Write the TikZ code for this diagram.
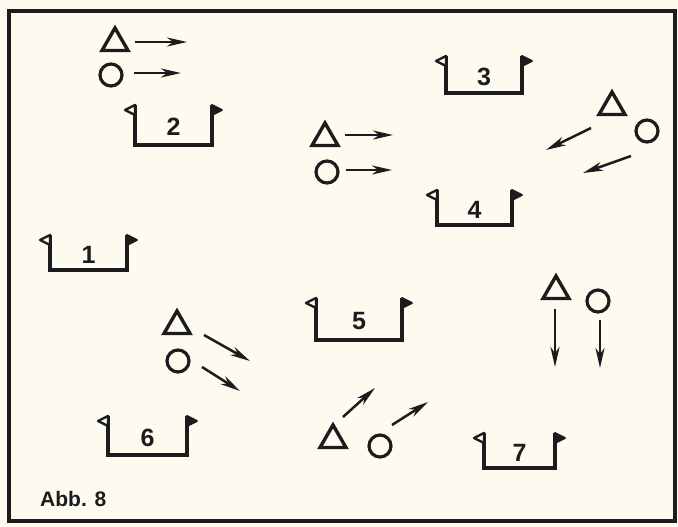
\documentclass[tikz,border=0pt]{standalone}
\usepackage{fontspec}
\setmainfont{Liberation Sans}
\usetikzlibrary{shapes.geometric,arrows.meta}
\definecolor{paper}{RGB}{253,250,240}
\definecolor{ink}{RGB}{28,28,30}
\tikzset{
  goalline/.style={draw=ink,line width=3.4pt,line join=miter},
  flagl/.style={draw=ink,fill=paper,line width=2.4pt,line join=round},
  flagr/.style={draw=ink,fill=ink,line width=1.8pt,line join=round},
  num/.style={font=\fontsize{25}{25}\selectfont\bfseries,text=ink,inner sep=0pt},
  tri/.style={regular polygon,regular polygon sides=3,draw=ink,line width=3.4pt,minimum size=30pt,inner sep=0pt},
  ball/.style={circle,draw=ink,line width=3.2pt,minimum size=22pt,inner sep=0pt},
  run/.style={draw=ink,line width=2.5pt,-{Stealth[length=20pt,width=9pt,inset=6pt]}},
  frame/.style={draw=ink,line width=3.2pt},
}
\newcommand\goalU[6]{%
  \draw[goalline] (#2,{#4-2}) -- (#2,#5) -- (#3,#5) -- (#3,{#4-2});
  \draw[flagl] (#2,{#4-2}) -- ({#2-10},{#4+3}) -- (#2,{#4+8}) -- cycle;
  \draw[flagr] (#3,{#4-2}) -- ({#3+10},{#4+3}) -- (#3,{#4+8}) -- cycle;
  \node[num] (#1) at ({(#2+#3)/2},{(#4+#5)/2+1}) {#6};
}
\begin{document}
\begin{tikzpicture}[x=1pt,y=-1pt]
\useasboundingbox (0,0) rectangle (678,527);
\fill[paper] (0,0) rectangle (678,527);
\draw[frame] (9,11) rectangle (675,521);

% goals
\goalU{g1}{50}{127}{237}{270}{1}
\goalU{g2}{135}{212}{107}{145}{2}
\goalU{g3}{446}{522}{58}{93}{3}
\goalU{g4}{437}{512}{192}{225}{4}
\goalU{g5}{316}{402}{300}{340}{5}
\goalU{g6}{108}{187}{418}{455}{6}
\goalU{g7}{484}{555}{435}{468}{7}

% group A
\node[tri] (ta) at (115,43) {};
\node[ball] (ca) at (111,75) {};
\coordinate (ta1) at (135,42); \coordinate (ta2) at (187,42);
\coordinate (ca1) at (134,73); \coordinate (ca2) at (181,73);
\draw[run] (ta1) -- (ta2);
\draw[run] (ca1) -- (ca2);

% group B
\node[tri] (tb) at (325,138) {};
\node[ball] (cb) at (327,172) {};
\coordinate (tb1) at (345,135); \coordinate (tb2) at (393,135);
\coordinate (cb1) at (346,170); \coordinate (cb2) at (392,170);
\draw[run] (tb1) -- (tb2);
\draw[run] (cb1) -- (cb2);

% group C
\node[tri] (tc) at (612,107) {};
\node[ball] (cc) at (647,131) {};
\coordinate (tc1) at (591,128); \coordinate (tc2) at (546,150);
\coordinate (cc1) at (631,156); \coordinate (cc2) at (583,173);
\draw[run] (tc1) -- (tc2);
\draw[run] (cc1) -- (cc2);

% group D
\node[tri] (td) at (177,326) {};
\node[ball] (cd) at (178,361) {};
\coordinate (td1) at (204,335); \coordinate (td2) at (250,361);
\coordinate (cd1) at (202,367); \coordinate (cd2) at (240,391);
\draw[run] (td1) -- (td2);
\draw[run] (cd1) -- (cd2);

% group E
\node[tri] (te) at (333,440) {};
\node[ball] (ce) at (380,446) {};
\coordinate (te1) at (343,417); \coordinate (te2) at (375,388);
\coordinate (ce1) at (392,425); \coordinate (ce2) at (428,402);
\draw[run] (te1) -- (te2);
\draw[run] (ce1) -- (ce2);

% group F
\node[tri] (tf) at (556,291) {};
\node[ball] (cf) at (598,301) {};
\coordinate (tf1) at (555,309); \coordinate (tf2) at (555,367);
\coordinate (cf1) at (600,320); \coordinate (cf2) at (600,368);
\draw[run] (tf1) -- (tf2);
\draw[run] (cf1) -- (cf2);

\node[font=\fontsize{21}{21}\selectfont\bfseries,text=ink,anchor=west,inner sep=0pt] (abb) at (40,499) {Abb. 8};
\end{tikzpicture}
\end{document}
